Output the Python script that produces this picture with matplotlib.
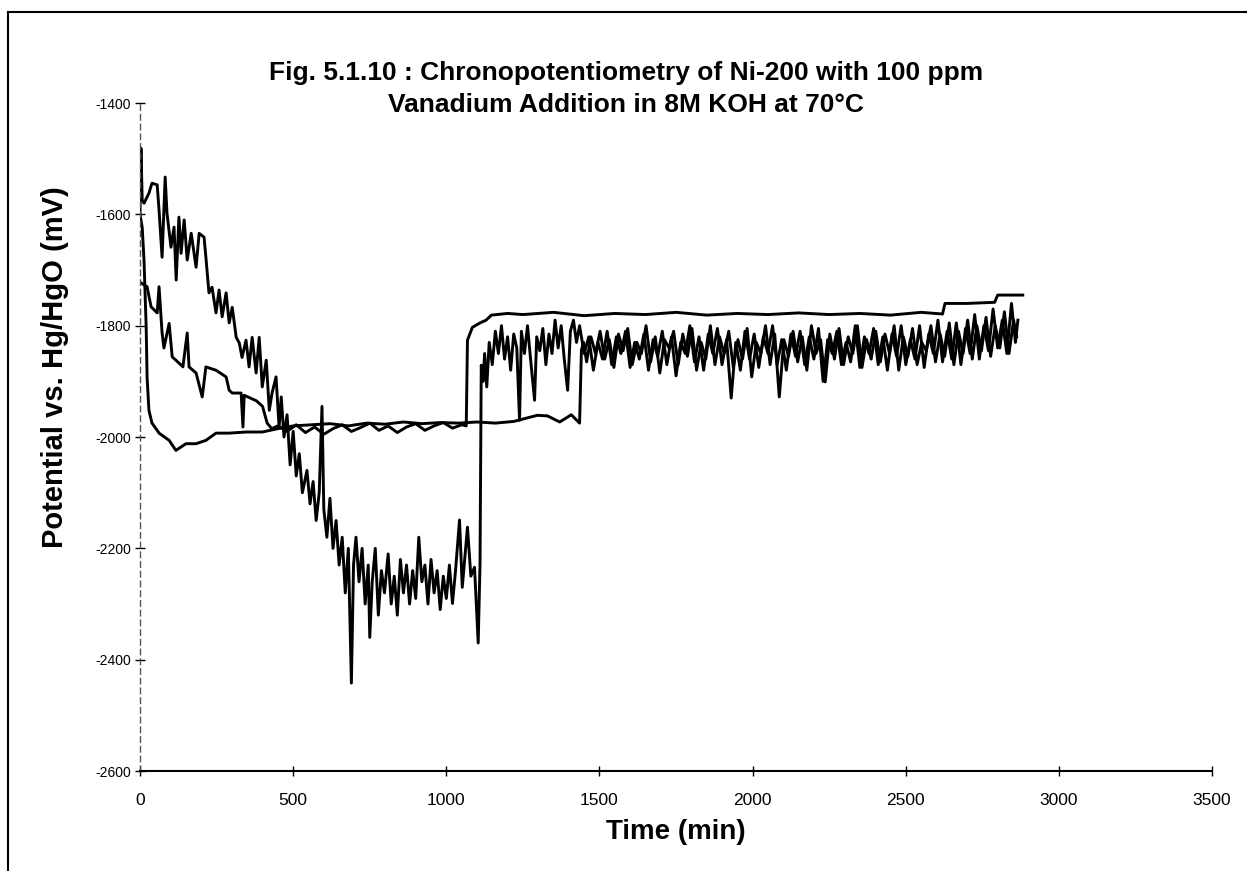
import matplotlib
matplotlib.use('Agg')
import matplotlib.pyplot as plt
from matplotlib.lines import Line2D

plt.rcParams['font.family'] = ['Liberation Sans', 'DejaVu Sans']

# series 1 - noisy, starts near -1480 and falls to -2300 before jumping up
t1 = [0, 3, 7, 13, 29, 39, 56, 62, 72, 82, 88, 101, 111, 118, 127, 134, 144, 154, 167, 183,
      193, 209, 215, 225, 235, 248, 258, 268, 281, 291, 301, 314, 324, 333, 346, 356, 366, 379,
      389, 399, 412, 422, 431, 444, 454, 461, 470, 480, 490, 500, 510, 520, 530, 545, 555, 565,
      575, 585, 594, 600, 610, 620, 630, 640, 650, 660, 670, 680, 690, 697, 705, 715, 725, 735,
      745, 750, 758, 768, 778, 788, 798, 810, 820, 830, 840, 850, 860, 870, 880, 890, 900, 910,
      920, 930, 940, 950, 960, 970, 980, 990, 1000, 1010, 1020, 1030, 1043, 1052, 1060, 1069,
      1080, 1092, 1104, 1110, 1114, 1120, 1125, 1132, 1140, 1150, 1160, 1170, 1180, 1190, 1200,
      1210, 1220, 1230, 1239, 1245, 1255, 1265, 1275, 1288, 1295, 1305, 1315, 1325, 1335, 1345,
      1355, 1365, 1375, 1385, 1396, 1405, 1415, 1425, 1435, 1450, 1465, 1480, 1495, 1510, 1525,
      1540, 1555, 1570, 1585, 1600, 1615, 1630, 1645, 1660, 1675, 1690, 1705, 1720, 1735, 1750,
      1765, 1780, 1795, 1810, 1825, 1840, 1855, 1870, 1885, 1900, 1915, 1930, 1945, 1960, 1975,
      1990, 2005, 2020, 2035, 2050, 2065, 2080, 2095, 2110, 2125, 2140, 2155, 2170, 2185, 2200,
      2215, 2230, 2245, 2260, 2275, 2290, 2305, 2320, 2335, 2350, 2365, 2380, 2395, 2410, 2425,
      2440, 2455, 2470, 2485, 2500, 2515, 2530, 2545, 2560, 2575, 2590, 2605, 2620, 2635, 2650,
      2665, 2680, 2695, 2710, 2725, 2740, 2755, 2770, 2785, 2800, 2815, 2830, 2845, 2858, 2866]
v1 = [-1600, -1481, -1574, -1580, -1562, -1544, -1547, -1592, -1677, -1533, -1598, -1659, -1623,
      -1718, -1605, -1670, -1610, -1682, -1634, -1695, -1634, -1641, -1677, -1741, -1731, -1777,
      -1736, -1784, -1741, -1795, -1767, -1821, -1831, -1857, -1826, -1874, -1821, -1885, -1821,
      -1910, -1862, -1952, -1921, -1892, -1982, -1928, -2000, -1960, -2050, -1990, -2070, -2030,
      -2100, -2060, -2120, -2080, -2150, -2100, -1945, -2130, -2180, -2110, -2200, -2150, -2230,
      -2180, -2280, -2200, -2442, -2230, -2180, -2260, -2200, -2300, -2230, -2360, -2260, -2200,
      -2320, -2240, -2280, -2210, -2300, -2250, -2320, -2220, -2280, -2230, -2300, -2240, -2290,
      -2180, -2260, -2230, -2300, -2220, -2280, -2240, -2310, -2250, -2290, -2230, -2299, -2240,
      -2149, -2270, -2220, -2162, -2250, -2234, -2370, -2227, -1871, -1900, -1850, -1910, -1830,
      -1870, -1810, -1850, -1800, -1860, -1820, -1880, -1815, -1840, -1970, -1810, -1850, -1800,
      -1860, -1934, -1820, -1845, -1805, -1870, -1815, -1850, -1790, -1840, -1800, -1860, -1916,
      -1810, -1790, -1830, -1800, -1850, -1820, -1880, -1830, -1860, -1810, -1870, -1820, -1850,
      -1810, -1875, -1830, -1860, -1815, -1880, -1825, -1855, -1810, -1870, -1820, -1890, -1830,
      -1850, -1800, -1865, -1820, -1880, -1815, -1850, -1805, -1870, -1825, -1930, -1830, -1880,
      -1810, -1860, -1815, -1875, -1820, -1850, -1800, -1870, -1825, -1880, -1815, -1855, -1810,
      -1870, -1820, -1860, -1805, -1900, -1825, -1850, -1810, -1870, -1830, -1865, -1800, -1875,
      -1820, -1850, -1805, -1870, -1820, -1880, -1815, -1855, -1800, -1870, -1825, -1860, -1800,
      -1875, -1815, -1850, -1790, -1865, -1810, -1860, -1795, -1870, -1805, -1850, -1780, -1860,
      -1800, -1845, -1770, -1840, -1790, -1850, -1760, -1830, -1790]

# series 2 - starts at -1720, flat near -1985, steps up to -1780 at ~1070 min
t2 = [0, 23, 36, 56, 62, 72, 78, 95, 105, 127, 140, 154, 160, 183, 203, 215, 248, 281, 291, 301,
      330, 336, 340, 360, 380, 400, 415, 430, 450, 480, 510, 540, 570, 600, 630, 660, 690, 720,
      750, 780, 810, 840, 870, 900, 930, 960, 990, 1020, 1050, 1065, 1069, 1085, 1110, 1130,
      1147, 1200, 1250, 1350, 1450, 1550, 1650, 1750, 1850, 1950, 2050, 2150, 2250, 2350, 2450,
      2550, 2620, 2628, 2700, 2790, 2800, 2882]
v2 = [-1722, -1730, -1766, -1777, -1730, -1813, -1840, -1796, -1856, -1867, -1874, -1813, -1874,
      -1885, -1928, -1874, -1880, -1892, -1916, -1921, -1921, -1982, -1925, -1930, -1935, -1945,
      -1975, -1985, -1980, -1990, -1978, -1992, -1982, -1995, -1985, -1978, -1990, -1983, -1975,
      -1988, -1980, -1992, -1982, -1976, -1988, -1980, -1974, -1984, -1978, -1980, -1826, -1803,
      -1795, -1790, -1781, -1778, -1780, -1776, -1782, -1778, -1780, -1776, -1781, -1778, -1780,
      -1777, -1780, -1778, -1781, -1776, -1779, -1760, -1760, -1758, -1745, -1745]

# series 3 - fast drop to -2020, flat near -1975 until ~1440 min, then noisy
t3 = [0, 7, 13, 20, 23, 29, 39, 56, 62, 95, 117, 150, 183, 215, 248, 291, 346, 399, 450, 500,
      560, 620, 680, 740, 800, 860, 920, 980, 1040, 1100, 1160, 1220, 1297, 1330, 1370, 1408,
      1430, 1435, 1441, 1448, 1458, 1472, 1487, 1502, 1517, 1532, 1547, 1562, 1577, 1592, 1607,
      1622, 1637, 1652, 1667, 1682, 1697, 1712, 1727, 1742, 1757, 1772, 1787, 1802, 1817, 1832,
      1847, 1862, 1877, 1892, 1907, 1922, 1937, 1952, 1967, 1982, 1997, 2012, 2027, 2042, 2057,
      2072, 2087, 2102, 2117, 2132, 2147, 2162, 2177, 2192, 2207, 2222, 2237, 2252, 2267, 2282,
      2297, 2312, 2327, 2342, 2357, 2372, 2387, 2402, 2417, 2432, 2447, 2462, 2477, 2492, 2507,
      2522, 2537, 2552, 2567, 2582, 2597, 2612, 2627, 2642, 2657, 2672, 2687, 2702, 2717, 2732,
      2747, 2762, 2777, 2792, 2807, 2822, 2837, 2852, 2862]
v3 = [-1601, -1623, -1682, -1802, -1892, -1952, -1975, -1988, -1993, -2006, -2024, -2012, -2012,
      -2006, -1993, -1993, -1991, -1991, -1985, -1980, -1978, -1976, -1980, -1975, -1977, -1973,
      -1976, -1974, -1975, -1973, -1975, -1972, -1961, -1962, -1973, -1960, -1972, -1975, -1844,
      -1830, -1865, -1820, -1850, -1810, -1860, -1825, -1875, -1815, -1845, -1805, -1870, -1830,
      -1850, -1800, -1865, -1820, -1885, -1825, -1840, -1810, -1870, -1815, -1855, -1805, -1880,
      -1830, -1860, -1800, -1870, -1820, -1850, -1810, -1875, -1825, -1860, -1805, -1892, -1830,
      -1850, -1800, -1870, -1815, -1928, -1825, -1855, -1810, -1865, -1820, -1880, -1800, -1850,
      -1825, -1901, -1815, -1860, -1805, -1870, -1820, -1850, -1800, -1875, -1825, -1860, -1810,
      -1865, -1815, -1850, -1800, -1880, -1820, -1855, -1805, -1870, -1830, -1845, -1800, -1865,
      -1815, -1855, -1795, -1870, -1810, -1850, -1790, -1860, -1800, -1845, -1785, -1855, -1800,
      -1840, -1775, -1850, -1790, -1820]

xticks = [0, 500, 1000, 1500, 2000, 2500, 3000, 3500]
yticks = [-2600, -2400, -2200, -2000, -1800, -1600, -1400]

fig = plt.figure(figsize=(12.47, 8.71), dpi=100)
ax = fig.add_axes([0.1123, 0.1148, 0.8597, 0.7669])

for t, v in [(t2, v2), (t3, v3), (t1, v1)]:
    ax.plot(t, v, color='black', lw=2.1)

ax.set_xlim(0, 3500)
ax.set_ylim(-2600, -1400)
ax.set_xticks(xticks)
ax.set_yticks(yticks)
ax.set_yticklabels([str(y) for y in yticks], fontsize=10)
ax.set_xticklabels([str(x) for x in xticks], fontsize=12.5)
ax.tick_params(axis='both', direction='inout', length=7, width=1, color='black')
ax.tick_params(axis='x', pad=12)
ax.tick_params(axis='y', pad=3)

ax.spines['top'].set_visible(False)
ax.spines['right'].set_visible(False)
ax.spines['left'].set_linestyle((0, (4, 3)))
ax.spines['left'].set_linewidth(1)
ax.spines['left'].set_color('#555555')
ax.spines['bottom'].set_linewidth(1.5)

fig.text(0.502, 0.916, 'Fig. 5.1.10 : Chronopotentiometry of Ni-200 with 100 ppm',
         ha='center', va='center', fontsize=19, fontweight='bold')
fig.text(0.502, 0.879, 'Vanadium Addition in 8M KOH at 70°C',
         ha='center', va='center', fontsize=19, fontweight='bold')
fig.text(0.542, 0.045, 'Time (min)', ha='center', va='center', fontsize=20, fontweight='bold')
fig.text(0.044, 0.579, 'Potential vs. Hg/HgO (mV)', ha='center', va='center',
         rotation=90, fontsize=21, fontweight='bold')

# frame round the whole figure
for xs, ys in [([0.0065, 0.0065], [0.0, 0.986]), ([0.0065, 1.0], [0.986, 0.986])]:
    fig.add_artist(Line2D(xs, ys, transform=fig.transFigure, color='black', lw=1.5))

fig.savefig('out.png', dpi=100)
